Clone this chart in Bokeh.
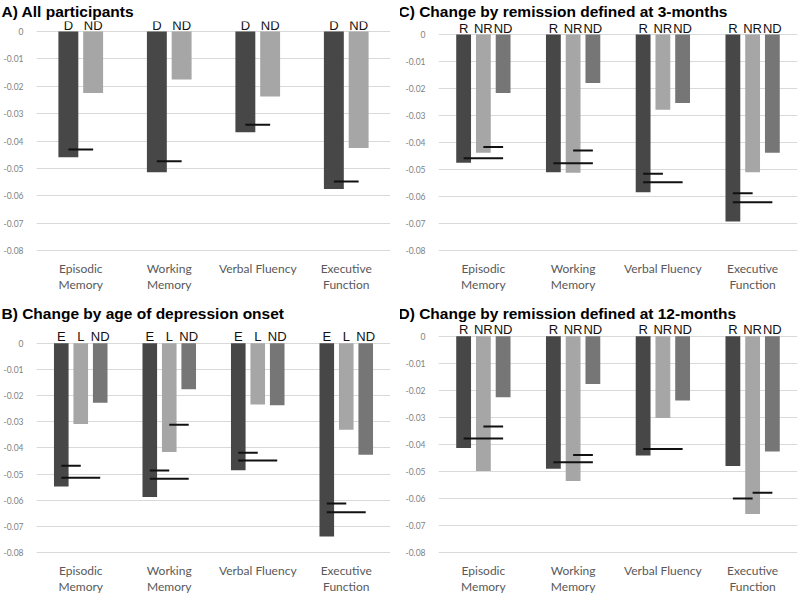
from bokeh.plotting import figure
from bokeh.layouts import column, row
from bokeh.models import ColumnDataSource, FactorRange, Range1d, FixedTicker, LabelSet
from bokeh.embed import file_html
from bokeh.resources import INLINE
from bokeh.core.properties import value

# ---------------- data ----------------
categories = ["Episodic\nMemory", "Working\nMemory", "Verbal Fluency", "Executive\nFunction"]
y_ticks = [0, -0.01, -0.02, -0.03, -0.04, -0.05, -0.06, -0.07, -0.08]
y_tick_labels = ["0", "-0.01", "-0.02", "-0.03", "-0.04", "-0.05", "-0.06", "-0.07", "-0.08"]

# A) All participants
a_title = "A) All participants"
a_groups = ["D", "ND"]
a_D = [-0.0459, -0.0514, -0.0368, -0.0575]
a_ND = [-0.0225, -0.0175, -0.0237, -0.0426]
a_line_cat = [0, 1, 2, 3]
a_line_y = [-0.0431, -0.0474, -0.0341, -0.0548]
a_line_from = [0, 0, 0, 0]
a_line_to = [1, 1, 1, 1]

# B) Change by age of depression onset
b_title = "B) Change by age of depression onset"
b_groups = ["E", "L", "ND"]
b_E = [-0.0548, -0.0588, -0.0485, -0.0739]
b_L = [-0.0309, -0.0416, -0.0234, -0.0331]
b_ND = [-0.0227, -0.0176, -0.0237, -0.0426]
b_line_cat = [0, 0, 1, 1, 1, 2, 2, 3, 3]
b_line_y = [-0.0468, -0.0514, -0.0312, -0.0486, -0.0518, -0.0419, -0.0448, -0.0613, -0.0646]
b_line_from = [0, 0, 1, 0, 0, 0, 0, 0, 0]
b_line_to = [1, 2, 2, 1, 2, 1, 2, 1, 2]

# C) Change by remission defined at 3-months
c_title = "C) Change by remission defined at 3-months"
c_groups = ["R", "NR", "ND"]
c_R = [-0.0475, -0.0510, -0.0584, -0.0693]
c_NR = [-0.0438, -0.0512, -0.0279, -0.0510]
c_ND = [-0.0217, -0.0180, -0.0254, -0.0438]
c_line_cat = [0, 0, 1, 1, 2, 2, 3, 3]
c_line_y = [-0.0417, -0.0458, -0.0430, -0.0477, -0.0516, -0.0547, -0.0588, -0.0621]
c_line_from = [1, 0, 1, 0, 0, 0, 0, 0]
c_line_to = [2, 2, 2, 2, 1, 2, 1, 2]

# D) Change by remission defined at 12-months
d_title = "D) Change by remission defined at 12-months"
d_groups = ["R", "NR", "ND"]
d_R = [-0.0413, -0.0490, -0.0441, -0.0480]
d_NR = [-0.0498, -0.0535, -0.0302, -0.0657]
d_ND = [-0.0225, -0.0176, -0.0237, -0.0426]
d_line_cat = [0, 0, 1, 1, 2, 3, 3]
d_line_y = [-0.0334, -0.0378, -0.0439, -0.0466, -0.0417, -0.0600, -0.0579]
d_line_from = [1, 0, 1, 0, 0, 0, 1]
d_line_to = [2, 2, 2, 2, 2, 1, 2]

DARK, LIGHT, MID = "#474747", "#a6a6a6", "#767676"
GRID = "#d9d9d9"
TOP_BORDER = 21


def make_panel(title, groups, series, colors, lcat, ly, lfrom, lto,
               W, H, fl, fr, zero_px, m08_px):
    n = len(groups)
    if n == 2:
        offsets, bw = [-0.14, 0.14], 0.225
    else:
        offsets, bw = [-0.22, 0.0, 0.22], 0.165
    ppu = (m08_px - zero_px) / 0.08
    top_px = TOP_BORDER
    bot_px = m08_px + 3
    y_end = (zero_px - top_px) / ppu
    y_start = -0.08 - (bot_px - m08_px) / ppu

    p = figure(width=W, height=H, x_range=FactorRange(*categories),
               y_range=Range1d(y_start, y_end), output_backend="svg",
               toolbar_location=None, title=title,
               min_border_left=fl, min_border_right=W - fr,
               min_border_top=top_px, min_border_bottom=H - bot_px)
    p.title.text_font = "Liberation Sans"
    p.title.text_font_style = "bold"
    p.title.text_font_size = "15.5px"
    p.title.text_color = "#000000"
    p.title.vertical_align = "top"
    p.title.standoff = 0
    p.title.offset = -fl - 2
    p.outline_line_color = None
    p.background_fill_color = "white"
    p.border_fill_color = "white"

    for gi, (g, vals, col) in enumerate(zip(groups, series, colors)):
        xs = [(c, offsets[gi]) for c in categories]
        src = ColumnDataSource(dict(x=xs, top=vals))
        p.vbar(x="x", top="top", bottom=0, width=bw, source=src,
               fill_color=col, line_color=None)
        tsrc = ColumnDataSource(dict(x=xs, y=[0] * len(categories), t=[g] * len(categories)))
        p.add_layout(LabelSet(x="x", y="y", text="t", source=tsrc,
                              text_align="center", text_baseline="alphabetic",
                              y_offset=2,
                              text_font=value("Liberation Sans"),
                              text_font_size=value("13px"),
                              text_color="#111111"))

    lsrc = ColumnDataSource(dict(
        x0=[(categories[c], offsets[f]) for c, f in zip(lcat, lfrom)],
        x1=[(categories[c], offsets[t]) for c, t in zip(lcat, lto)],
        y=ly))
    p.segment(x0="x0", y0="y", x1="x1", y1="y", source=lsrc,
              line_color="#111111", line_width=2)

    p.ygrid.grid_line_color = GRID
    p.ygrid.grid_line_width = 1
    p.xgrid.grid_line_color = None
    p.yaxis.ticker = FixedTicker(ticks=y_ticks)
    p.yaxis.major_label_overrides = {t: l for t, l in zip(y_ticks, y_tick_labels)}
    p.yaxis.axis_line_color = None
    p.yaxis.major_tick_line_color = None
    p.yaxis.minor_tick_line_color = None
    p.yaxis.major_label_text_font = "Lato"
    p.yaxis.major_label_text_font_size = "8.5px"
    p.yaxis.major_label_text_color = "#7f7f7f"
    p.yaxis.major_label_standoff = 7
    p.xaxis.axis_line_color = None
    p.xaxis.major_tick_line_color = None
    p.xaxis.major_label_text_font = "Lato"
    p.xaxis.major_label_text_font_size = "12px"
    p.xaxis.major_label_text_color = "#595959"
    p.xaxis.major_label_text_line_height = 1.1
    p.xaxis.major_label_standoff = 1
    return p


pa = make_panel(a_title, a_groups, [a_D, a_ND], [DARK, LIGHT],
                a_line_cat, a_line_y, a_line_from, a_line_to,
                400, 302, 33, 390, 31, 250)
pc = make_panel(c_title, c_groups, [c_R, c_NR, c_ND], [DARK, LIGHT, MID],
                c_line_cat, c_line_y, c_line_from, c_line_to,
                400, 302, 38, 397, 34, 250)
pb = make_panel(b_title, b_groups, [b_E, b_L, b_ND], [DARK, LIGHT, MID],
                b_line_cat, b_line_y, b_line_from, b_line_to,
                400, 295, 33, 390, 41, 253)
pd_ = make_panel(d_title, d_groups, [d_R, d_NR, d_ND], [DARK, LIGHT, MID],
                 d_line_cat, d_line_y, d_line_from, d_line_to,
                 400, 295, 38, 397, 34, 253)

layout = column(row(pa, pc), row(pb, pd_))
open("out.html", "w").write(file_html(layout, INLINE))
